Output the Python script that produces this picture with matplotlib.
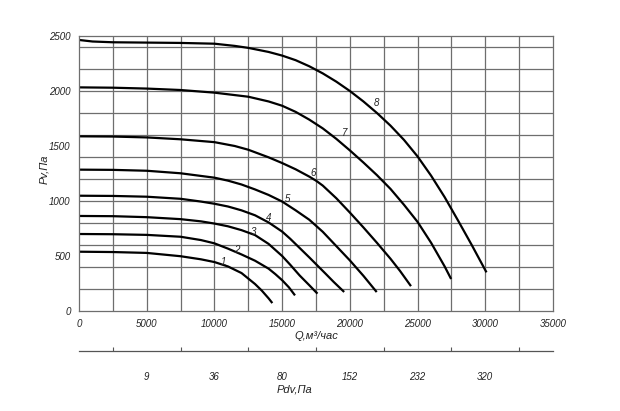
import numpy as np
import matplotlib
matplotlib.use("Agg")
import matplotlib.pyplot as plt
from matplotlib.ticker import MultipleLocator, FixedLocator, NullFormatter

# --- data (Q in m3/h, Pv in Pa) ---
q1 = [0, 2500, 5000, 7500, 9000, 10000, 11000, 12000, 12500, 13000, 13500, 14000, 14225]
p1 = [539, 536, 528, 498, 470, 445, 405, 345, 295, 245, 185, 115, 80]

q2 = [0, 2500, 5000, 7500, 9000, 10000, 11000, 12000, 13000, 14000, 14500, 15000, 15500, 15900]
p2 = [700, 698, 692, 675, 645, 615, 567, 514, 457, 385, 335, 280, 215, 150]

q3 = [0, 2500, 5000, 7500, 9000, 10000, 11000, 12000, 13000, 14000, 15000, 15600, 16300, 17000, 17550]
p3 = [864, 862, 853, 835, 815, 795, 770, 735, 690, 610, 500, 420, 322, 235, 165]

q4 = [0, 2500, 5000, 7500, 9000, 10000, 11000, 12000, 13000, 14000, 15000, 15600, 16300, 17000,
      17550, 18200, 18800, 19520]
p4 = [1048, 1046, 1039, 1020, 995, 975, 950, 915, 870, 805, 722, 656, 572, 488,
      420, 340, 265, 180]

q5 = [0, 2500, 5000, 7500, 10000, 11000, 12000, 13000, 14000, 15000, 16000, 17000, 18000,
      19000, 20000, 21000, 21930]
p5 = [1285, 1283, 1275, 1252, 1212, 1185, 1150, 1105, 1055, 995, 915, 830, 720,
      590, 460, 320, 180]

q6 = [0, 2500, 5000, 7500, 10000, 11500, 12500, 14000, 15000, 16000, 17000, 17500, 18000,
      19000, 20000, 21000, 22000, 23000, 23700, 24465]
p6 = [1588, 1586, 1578, 1561, 1535, 1500, 1466, 1397, 1345, 1288, 1222, 1185, 1140,
      1025, 895, 760, 620, 475, 365, 234]

q7 = [0, 2500, 5000, 7500, 10000, 12500, 14000, 15000, 16000, 17000, 18000, 19000, 20000,
      21000, 22000, 23000, 24000, 25000, 26000, 27000, 27440]
p7 = [2033, 2030, 2022, 2009, 1985, 1948, 1905, 1866, 1810, 1740, 1660, 1565, 1460,
      1350, 1235, 1110, 965, 810, 620, 405, 300]

q8 = [0, 1000, 2500, 5000, 7500, 10000, 11500, 12500, 14000, 15000, 16000, 17000, 18000,
      19000, 20000, 21000, 22000, 23000, 24000, 25000, 26000, 27000, 28000, 29000, 30050]
p8 = [2464, 2450, 2443, 2440, 2437, 2430, 2410, 2392, 2355, 2322, 2280, 2225, 2160,
      2085, 2000, 1905, 1800, 1685, 1555, 1405, 1230, 1035, 820, 600, 360]

curves = [(q1, p1), (q2, p2), (q3, p3), (q4, p4),
          (q5, p5), (q6, p6), (q7, p7), (q8, p8)]
curve_names = ["1", "2", "3", "4", "5", "6", "7", "8"]
# where each number sits (Q, Pv)
name_q = [10655, 11645, 12870, 14030, 15410, 17300, 19640, 21980]
name_p = [448, 551, 718, 843, 1018, 1252, 1615, 1888]

pdv_q = [5000, 10000, 15000, 20000, 25000, 30000]
pdv_labels = ["9", "36", "80", "152", "232", "320"]

# --- style ---
plt.rcParams['font.family'] = ['Liberation Sans', 'DejaVu Sans']
plt.rcParams['font.style'] = 'italic'
txt = '#222222'
grid_c = '#6e6e6e'

fig = plt.figure(figsize=(6.2, 4.11), dpi=100)
ax = fig.add_axes([79 / 620, 1 - 311 / 411, 474 / 620, 275 / 411])

for q, p in curves:
    ax.plot(q, p, color='black', lw=1.6, solid_joinstyle='round')

for name, x, y in zip(curve_names, name_q, name_p):
    ax.text(x, y, name, fontsize=7, color=txt, ha='center', va='center')

ax.set_xlim(0, 35000)
ax.set_ylim(0, 2500)
ax.xaxis.set_major_locator(MultipleLocator(5000))
ax.yaxis.set_major_locator(MultipleLocator(500))
for gx in np.arange(2500, 35000, 2500):
    ax.axvline(gx, color=grid_c, lw=0.9, zorder=0)
for gy in np.arange(200, 2500, 200):
    ax.axhline(gy, color=grid_c, lw=0.9, zorder=0)
for s in ax.spines.values():
    s.set_color(grid_c)
    s.set_linewidth(0.9)
ax.tick_params(which='both', length=0, labelsize=7, labelcolor=txt)
ax.tick_params(axis='x', pad=6)
ax.tick_params(axis='y', pad=6)

fig.text(44 / 620, 1 - 169 / 411, "Pv,Па", rotation=90, fontsize=8,
         color=txt, ha='center', va='center')
fig.text(316 / 620, 1 - 336 / 411, "Q,м³/час", fontsize=8,
         color=txt, ha='center', va='center')
fig.text(295 / 620, 1 - 389 / 411, "Pdv,Па", fontsize=8,
         color=txt, ha='center', va='center')

# dynamic pressure scale below the main axis
sec = ax.secondary_xaxis(-40 / 275)
sec.spines['bottom'].set_color('#555555')
sec.spines['bottom'].set_linewidth(0.9)
sec.xaxis.set_major_locator(FixedLocator(pdv_q))
sec.xaxis.set_ticklabels(pdv_labels)
sec.xaxis.set_minor_locator(FixedLocator(np.arange(2500, 35000, 5000)))
sec.xaxis.set_minor_formatter(NullFormatter())
sec.tick_params(which='major', length=0, pad=15, labelsize=7, labelcolor=txt)
sec.tick_params(which='minor', length=3, direction='in', color='#555555', width=0.8)

fig.savefig("out.png", dpi=100)
